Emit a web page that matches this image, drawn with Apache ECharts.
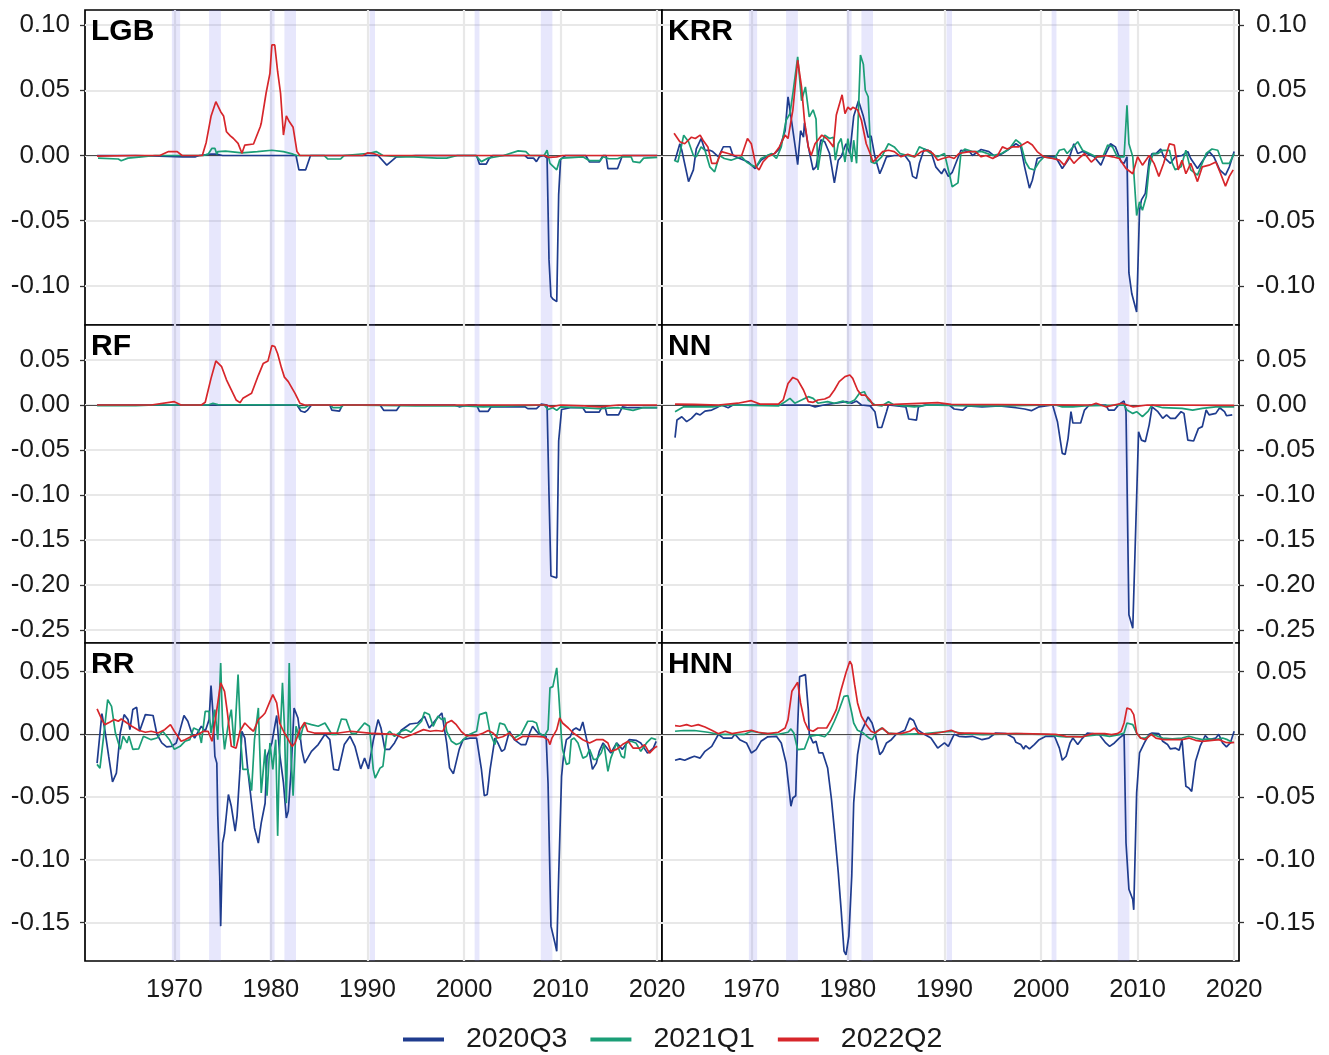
<!DOCTYPE html>
<html><head><meta charset="utf-8">
<script src="https://cdn.jsdelivr.net/npm/echarts@6/dist/echarts.min.js"></script>
<style>html,body{margin:0;padding:0;background:#fff}#c{width:1329px;height:1055px}</style>
</head><body><div id="c"></div>
<script>
// ---------- tick labels / categories ----------
const panelNames = ['LGB','KRR','RF','NN','RR','HNN'];
const seriesNames = ['2020Q3','2021Q1','2022Q2'];
const xTicks = [1970,1980,1990,2000,2010,2020];
const yTicksRow1 = [-0.10,-0.05,0,0.05,0.10];
const yTicksRow2 = [-0.25,-0.20,-0.15,-0.10,-0.05,0,0.05];
const yTicksRow3 = [-0.15,-0.10,-0.05,0,0.05];
const recessions = [[1969.75,1970.6],[1973.6,1974.82],[1979.88,1980.38],[1981.4,1982.6],[1990.22,1990.78],[2001.1,2001.6],[2007.95,2009.15]];

// ---------- LGB ----------
const LGB_2020Q3 = [[1962,0],[1966,0],[1970.9,-0.001],[1972.2,-0.001],[1972.6,0],[1973.8,0.001],[1974.3,0.001],[1975,0],[1982.6,0],[1982.9,-0.011],[1983.6,-0.011],[1984.1,0],[1991.1,0],[1992.0,-0.0074],[1993.0,-0.001],[1995,0],[2001.3,0],[2001.6,-0.0066],[2002.3,-0.0066],[2002.6,-0.0023],[2003,0],[2006.3,0],[2006.6,-0.002],[2007.2,-0.002],[2007.5,-0.0047],[2007.8,-0.001],[2008.3,0],[2008.6,-0.002],[2008.8,-0.08],[2009.0,-0.108],[2009.2,-0.11],[2009.6,-0.112],[2009.8,-0.03],[2010.0,-0.003],[2010.5,0],[2012.6,0],[2013.0,-0.005],[2014.0,-0.005],[2014.4,0],[2014.7,0],[2014.9,-0.01],[2015.9,-0.01],[2016.4,0],[2020,0]];
const LGB_2021Q1 = [[1962.1,-0.002],[1964.2,-0.0027],[1964.5,-0.004],[1965.2,-0.002],[1966.6,-0.001],[1968,0],[1973,0],[1973.5,0.001],[1973.9,0.0055],[1974.2,0.0055],[1974.4,0.001],[1974.5,0.003],[1975.3,0.0033],[1977.0,0.002],[1978.6,0.003],[1980.1,0.004],[1981.3,0.003],[1982.3,0.001],[1982.7,0],[1985.5,0],[1985.9,-0.0027],[1987.2,-0.0027],[1987.6,0],[1990.2,0.0017],[1990.9,0.003],[1991.6,0],[1993.4,-0.001],[1994.8,-0.001],[1997.2,-0.002],[1998.2,-0.002],[1999.3,0],[2001.2,0],[2001.8,-0.0047],[2002.5,-0.002],[2004.1,0],[2005.6,0.0035],[2006.4,0.003],[2006.8,0],[2008.3,0],[2008.6,0.004],[2008.9,-0.006],[2009.6,-0.011],[2009.9,-0.0035],[2010.2,-0.002],[2012.3,-0.001],[2013.0,-0.004],[2014.1,-0.004],[2014.4,-0.001],[2015.0,-0.0025],[2015.9,-0.0025],[2016.4,-0.001],[2017.3,-0.001],[2017.5,-0.0047],[2018.2,-0.0055],[2018.6,-0.002],[2020,-0.0015]];
const LGB_2022Q2 = [[1962,-0.0005],[1966,0],[1968.5,0],[1969.4,0.003],[1970.3,0.003],[1970.8,0],[1972.9,0],[1973.3,0.01],[1973.8,0.03],[1974.3,0.0412],[1974.8,0.0336],[1975.1,0.0303],[1975.4,0.0182],[1975.8,0.015],[1976.1,0.0132],[1976.6,0.0093],[1977.0,0.0017],[1977.3,0.008],[1978.2,0.0088],[1978.4,0.0073],[1978.9,0.022],[1979.0,0.0247],[1979.5,0.0477],[1979.9,0.063],[1980.1,0.0847],[1980.4,0.0847],[1980.7,0.0642],[1981.0,0.0477],[1981.3,0.0157],[1981.6,0.0303],[1981.9,0.026],[1982.3,0.0216],[1982.7,0.003],[1983.0,0],[1989.5,0],[1990.0,0.002],[1990.6,0.0015],[1991.2,0],[2008.3,0],[2008.8,-0.0015],[2009.6,-0.001],[2010.2,0],[2020,0]];

// ---------- KRR ----------
const KRR_2020Q3 = [[1962.1,-0.0036],[1962.6,0.009],[1962.8,0.004],[1963.5,-0.02],[1964.0,-0.011],[1964.3,0.005],[1964.8,0.013],[1965.2,0.004],[1965.7,0.004],[1966.0,0.003],[1966.6,-0.001],[1967.1,0.0067],[1967.8,0.0067],[1968.1,0],[1968.8,-0.0023],[1969.7,-0.005],[1970.4,-0.01],[1971.0,-0.0036],[1971.7,0],[1972.4,0.0015],[1972.9,0.005],[1973.5,0.019],[1973.8,0.045],[1974.1,0.03],[1974.5,0.009],[1974.8,-0.007],[1975.1,0.019],[1975.4,0.014],[1975.5,0.025],[1975.9,0.0066],[1976.4,-0.011],[1976.7,-0.0087],[1977.2,0.012],[1977.6,0.0105],[1978.1,0.0015],[1978.6,-0.021],[1979.0,-0.0036],[1979.3,-0.001],[1979.8,0.009],[1980.2,0.0015],[1980.6,0.03],[1981.1,0.042],[1981.6,0.03],[1982.1,0.014],[1982.4,0.015],[1982.8,-0.001],[1983.3,-0.014],[1983.6,-0.0087],[1984.0,-0.001],[1984.8,0],[1985.9,0],[1986.4,-0.005],[1986.7,-0.016],[1987.1,-0.0176],[1987.4,-0.006],[1987.9,0.005],[1988.6,0.003],[1989.1,-0.0087],[1989.7,-0.014],[1990.0,-0.01],[1990.4,-0.016],[1990.8,-0.013],[1991.7,0.004],[1992.6,0.003],[1992.9,0],[1993.8,0.0046],[1994.6,0.003],[1995.3,-0.001],[1996.0,0.0015],[1996.5,0.004],[1997.4,0.009],[1997.9,0.0066],[1998.3,-0.0087],[1998.8,-0.025],[1999.1,-0.019],[1999.6,-0.0023],[2000.2,-0.001],[2001.5,-0.001],[2002.2,-0.01],[2002.9,-0.0023],[2003.4,0.009],[2003.8,0.0015],[2004.3,0.003],[2005.5,-0.001],[2006.2,-0.0074],[2006.7,0.0015],[2007.2,0.009],[2007.7,0.0066],[2008.3,-0.005],[2008.6,-0.006],[2008.9,-0.001],[2009.1,-0.09],[2009.4,-0.106],[2009.6,-0.107],[2009.9,-0.12],[2010.2,-0.042],[2010.4,-0.034],[2010.8,-0.029],[2011.2,-0.0036],[2011.5,0.0015],[2011.9,0.0015],[2012.4,0.005],[2012.7,-0.001],[2013.4,-0.006],[2013.9,-0.001],[2014.6,0],[2015.2,0.003],[2015.5,-0.0023],[2016.2,-0.01],[2016.9,-0.0023],[2017.4,0.003],[2017.9,-0.001],[2018.5,-0.011],[2019.1,-0.015],[2019.5,-0.0087],[2020.0,0.003]];
const KRR_2021Q1 = [[1962.0,-0.0036],[1962.4,-0.005],[1963.0,0.0156],[1963.5,0.0105],[1964.0,0],[1964.3,-0.001],[1964.8,0.0066],[1965.2,0.004],[1965.7,-0.0087],[1966.2,-0.0125],[1966.7,0],[1967.2,-0.0023],[1967.9,-0.0036],[1968.4,-0.0023],[1969.0,-0.001],[1969.5,-0.005],[1970.0,-0.0074],[1970.5,-0.0087],[1971.0,-0.0023],[1972.1,0.0015],[1972.6,-0.0023],[1973.1,0.0066],[1973.6,0.027],[1974.0,0.032],[1974.3,0.0475],[1974.8,0.0756],[1975.2,0.042],[1975.6,0.0526],[1976.0,0.0296],[1976.4,0.035],[1976.7,0.028],[1976.9,-0.011],[1977.3,0.009],[1977.6,0.0156],[1978.1,0.013],[1978.5,0.014],[1978.7,-0.0036],[1979.0,0.009],[1979.3,0.013],[1979.7,-0.005],[1980.0,0.013],[1980.4,-0.005],[1980.6,0.0117],[1980.9,-0.006],[1981.3,0.077],[1981.6,0.07],[1981.8,0.05],[1982.1,0.045],[1982.4,-0.005],[1982.8,-0.006],[1983.5,-0.001],[1984.2,0.009],[1984.8,0.0066],[1985.4,0.0015],[1986.2,0],[1986.9,-0.001],[1987.4,0.0066],[1987.9,0.005],[1988.6,0.0015],[1989.3,-0.001],[1990.0,0.0015],[1990.5,-0.014],[1990.8,-0.024],[1991.4,-0.021],[1991.7,0.0015],[1992.1,0.005],[1992.9,0.003],[1993.9,0.003],[1995.0,0],[1995.9,0.0015],[1996.7,0.005],[1997.4,0.012],[1997.9,0.009],[1998.4,-0.005],[1998.8,-0.01],[1999.3,-0.011],[1999.8,-0.005],[2000.3,-0.001],[2001.4,-0.0023],[2001.9,0.004],[2002.4,0.005],[2002.7,0.0015],[2003.8,0.0105],[2004.3,0.004],[2005.0,0.0015],[2005.7,-0.001],[2006.4,-0.001],[2006.9,0.008],[2007.4,0.0066],[2007.9,-0.001],[2008.6,-0.001],[2008.9,0.0385],[2009.1,0.009],[2009.3,0.004],[2009.5,-0.001],[2009.9,-0.046],[2010.2,-0.0355],[2010.5,-0.042],[2010.9,-0.0315],[2011.2,-0.0087],[2011.6,0.0015],[2012.1,0.0015],[2012.6,0.004],[2013.3,0.004],[2013.6,-0.006],[2013.9,-0.011],[2014.5,-0.0087],[2015.0,0.004],[2015.5,-0.011],[2016.2,-0.015],[2017.1,0.0015],[2017.7,0.005],[2018.3,0.004],[2018.8,-0.006],[2019.5,-0.006],[2020.0,0.0015]];
const KRR_2022Q2 = [[1962.0,0.017],[1962.6,0.0105],[1963.1,0.009],[1963.8,0.014],[1964.2,0.013],[1964.7,0.0156],[1965.0,0.0117],[1965.5,0.0066],[1965.9,-0.006],[1966.4,-0.006],[1966.9,0.003],[1967.6,0.0015],[1968.3,0],[1969.0,0],[1969.6,0.013],[1970.0,0.009],[1970.5,-0.0087],[1970.8,-0.011],[1971.2,-0.005],[1971.7,-0.001],[1972.4,0.0015],[1972.9,0.0066],[1973.5,0.0156],[1973.8,0.013],[1974.3,0.0347],[1974.8,0.073],[1975.2,0.0526],[1975.5,0.027],[1975.9,0.0066],[1976.2,0],[1976.6,0.009],[1977.3,0.0156],[1977.8,0.013],[1978.1,0.0105],[1978.5,0.0066],[1978.8,0.031],[1979.0,0.03],[1979.4,0.0465],[1979.7,0.032],[1980.0,0.037],[1980.3,0.035],[1980.5,0.037],[1981.0,0.035],[1981.4,0.027],[1981.9,0.009],[1982.3,0.0015],[1982.6,-0.005],[1983.1,-0.001],[1983.6,0.003],[1984.2,0.004],[1984.8,0.003],[1985.5,-0.001],[1986.2,0.001],[1986.9,-0.001],[1987.6,0.003],[1988.3,0.004],[1988.8,0.0015],[1989.3,-0.0036],[1989.8,-0.0023],[1990.5,-0.001],[1991.0,-0.0023],[1991.5,0.0015],[1992.6,0.003],[1993.2,0.003],[1993.8,-0.001],[1994.3,0],[1995.0,-0.0023],[1995.5,0],[1996.0,0.0066],[1996.5,0.005],[1997.0,0.0066],[1997.7,0.0066],[1998.6,0.0105],[1999.1,0.008],[1999.6,0.003],[2000.3,-0.001],[2001.2,-0.0023],[2001.9,-0.0036],[2002.4,-0.0074],[2002.9,-0.001],[2003.4,-0.006],[2003.9,-0.0023],[2004.5,0.0015],[2005.2,-0.005],[2005.8,-0.001],[2006.7,0],[2007.4,-0.001],[2008.1,-0.0023],[2008.8,-0.01],[2009.5,-0.014],[2010.0,-0.001],[2010.5,-0.0074],[2011.2,0],[2011.7,-0.006],[2012.2,-0.016],[2012.7,-0.006],[2013.3,0.009],[2013.8,0.008],[2014.2,-0.011],[2014.6,-0.0036],[2015.0,-0.014],[2015.5,-0.006],[2016.2,-0.02],[2016.7,-0.0087],[2017.4,-0.0074],[2018.1,-0.005],[2018.6,-0.014],[2019.1,-0.0235],[2019.5,-0.016],[2019.9,-0.011]];

// ---------- RF ----------
const RF_2020Q3 = [[1962,0],[1982.7,0],[1983.1,-0.0067],[1983.5,-0.008],[1983.8,-0.0056],[1984.2,0],[1986.1,0],[1986.3,-0.0056],[1987.1,-0.0067],[1987.4,0],[1991.3,0],[1991.7,-0.006],[1993.0,-0.006],[1993.4,0],[1999,0],[1999.5,-0.002],[2000.5,0],[2001.3,0],[2001.6,-0.007],[2002.5,-0.007],[2002.8,-0.002],[2006.3,-0.002],[2006.6,-0.004],[2007.5,-0.004],[2008.0,0.001],[2008.6,0],[2008.8,-0.1],[2009.0,-0.19],[2009.6,-0.192],[2009.8,-0.04],[2010.1,-0.005],[2011,-0.003],[2012.3,-0.003],[2012.6,-0.008],[2014.0,-0.008],[2014.3,-0.002],[2014.6,-0.002],[2014.8,-0.011],[2016.0,-0.011],[2016.4,-0.002],[2017,-0.003],[2020,-0.003]];
const RF_2021Q1 = [[1962,-0.0007],[1963,-0.0003],[1966,-0.0007],[1968,0],[1973.5,0],[1974,0.002],[1974.5,0.0005],[1982.7,0],[1983.1,-0.003],[1983.5,-0.003],[1984,0],[1986.2,0],[1986.4,-0.003],[1987.2,-0.003],[1987.5,0],[1995,-0.001],[2000,-0.001],[2002,-0.002],[2005,-0.001],[2008.3,0],[2008.7,-0.005],[2009.2,-0.003],[2009.6,-0.006],[2010,-0.002],[2012,-0.003],[2014,-0.004],[2016,-0.003],[2017.5,-0.006],[2018.5,-0.003],[2020,-0.003]];
const RF_2022Q2 = [[1962,0],[1967.6,0],[1970.0,0.0037],[1970.7,0],[1972.8,0],[1973.2,0.003],[1973.8,0.0296],[1974.3,0.049],[1974.9,0.0426],[1975.4,0.028],[1975.9,0.0167],[1976.4,0.0056],[1976.8,0.0026],[1977.1,0.0074],[1978.0,0.013],[1978.7,0.033],[1979.2,0.046],[1979.7,0.049],[1980.1,0.066],[1980.4,0.065],[1980.7,0.057],[1981.1,0.041],[1981.4,0.031],[1981.8,0.026],[1982.5,0.013],[1983.0,0.002],[1983.5,0],[2008.5,0],[2009,-0.002],[2010,0],[2012.5,-0.001],[2014,-0.002],[2016,0],[2020,0]];

// ---------- NN ----------
const NN_2020Q3 = [[1962.1,-0.0363],[1962.3,-0.0167],[1962.8,-0.013],[1963.3,-0.0185],[1963.8,-0.0148],[1964.3,-0.0093],[1964.7,-0.011],[1965.2,-0.0067],[1965.9,-0.0056],[1966.4,-0.003],[1966.9,0],[1967.6,-0.003],[1968.1,0],[1976.0,0],[1976.6,-0.002],[1977.5,0],[1979.8,0.0037],[1980.4,0.002],[1980.9,0.0044],[1981.4,0],[1982.3,-0.001],[1982.8,-0.0074],[1983.1,-0.025],[1983.5,-0.025],[1984.0,-0.0074],[1984.2,0],[1986.0,-0.002],[1986.3,-0.0155],[1987.1,-0.0167],[1987.3,-0.002],[1988,0],[1990.5,0],[1991.0,-0.0044],[1991.9,-0.0056],[1992.4,-0.001],[1993.9,-0.002],[1995.7,-0.001],[1997.4,-0.003],[1998.3,-0.0044],[1999.0,-0.0063],[1999.8,-0.002],[2001.2,0],[2001.7,-0.0185],[2002.2,-0.0537],[2002.5,-0.0548],[2002.8,-0.037],[2003.1,-0.0074],[2003.3,-0.02],[2004.1,-0.02],[2004.5,-0.0056],[2005.0,0],[2006.7,0],[2007.0,-0.0056],[2007.6,-0.0056],[2008.1,0.001],[2008.6,0.0044],[2008.8,-0.0074],[2009.1,-0.233],[2009.5,-0.248],[2009.7,-0.248],[2010.1,-0.0296],[2010.4,-0.039],[2010.8,-0.0407],[2011.2,-0.022],[2011.5,-0.002],[2012.1,-0.0074],[2012.6,-0.0148],[2013.0,-0.011],[2013.4,-0.0148],[2013.9,-0.0148],[2014.5,-0.0074],[2014.8,-0.0093],[2015.2,-0.039],[2015.8,-0.04],[2016.3,-0.026],[2016.7,-0.024],[2017.1,-0.0056],[2017.4,-0.011],[2018.1,-0.0093],[2018.5,-0.003],[2019.0,-0.0074],[2019.2,-0.0119],[2019.8,-0.011]];
const NN_2021Q1 = [[1962.1,-0.0074],[1963.0,-0.002],[1966,-0.002],[1967.6,0],[1972.8,-0.001],[1973.5,0.0037],[1974.0,0.0074],[1974.5,0.002],[1975.2,0.0056],[1975.9,0.0093],[1976.4,0.0074],[1976.9,0.002],[1977.9,0.0037],[1978.6,0.002],[1979.5,0.0044],[1980.0,0.002],[1980.7,0.0056],[1981.2,0.013],[1981.7,0.0148],[1982.1,0.0056],[1982.8,0],[1983.5,-0.001],[1984.2,0.0037],[1984.8,0],[1986.9,-0.002],[1988.3,0],[1992.5,-0.001],[1995.7,-0.001],[2001.5,0],[2002.2,-0.002],[2003.3,-0.002],[2004.5,-0.001],[2008.6,0],[2008.9,-0.0056],[2009.5,-0.0093],[2009.9,-0.0074],[2010.5,-0.013],[2011.1,-0.0067],[2011.5,0],[2012.6,-0.003],[2014.6,-0.0037],[2015.7,-0.0056],[2016.7,-0.0037],[2018.1,-0.002],[2020,-0.002]];
const NN_2022Q2 = [[1962.1,0.001],[1964.1,0.0007],[1966.6,0],[1968.6,0.002],[1970.0,0.0048],[1970.9,0.001],[1972.8,0.001],[1973.3,0.0056],[1973.8,0.024],[1974.3,0.0307],[1974.8,0.028],[1975.4,0.0167],[1975.9,0.0037],[1976.4,0.003],[1976.9,0.0056],[1977.6,0.0067],[1978.1,0.0093],[1978.6,0.0167],[1979.1,0.026],[1979.7,0.0315],[1980.2,0.0333],[1980.5,0.0296],[1981.0,0.0167],[1981.4,0.011],[1981.8,0.011],[1982.3,0.0056],[1982.6,0],[1984.8,0.0007],[1989.3,0.0026],[1990.7,0.0007],[2005.2,0],[2005.7,0.002],[2006.7,-0.002],[2008.4,0.002],[2009.5,-0.002],[2011,0],[2020,-0.0005]];

// ---------- RR ----------
const RR_2020Q3 = [[1962.0,-0.023],[1962.5,0.0165],[1962.8,0.0037],[1963.2,-0.0175],[1963.6,-0.038],[1964.0,-0.031],[1964.4,0.001],[1964.8,0.0157],[1965.2,0.0117],[1965.4,0.0037],[1965.7,0.0197],[1966.1,0.0215],[1966.4,0.0024],[1967.0,0.0157],[1967.8,0.015],[1968.2,0],[1968.7,-0.0069],[1969.2,-0.01],[1969.7,-0.0096],[1970.2,-0.0069],[1970.6,0.0037],[1971.0,0.015],[1971.4,0.0104],[1971.8,0.001],[1972.1,-0.003],[1972.5,0.0024],[1972.8,0.0064],[1973.2,0.0024],[1973.6,0.0117],[1973.8,0.0388],[1974.0,0.017],[1974.2,-0.0175],[1974.4,-0.023],[1974.5,-0.065],[1974.7,-0.113],[1974.8,-0.153],[1975.0,-0.0867],[1975.2,-0.0787],[1975.6,-0.048],[1975.9,-0.0574],[1976.3,-0.0773],[1976.5,-0.065],[1976.8,-0.028],[1977.0,0.0024],[1977.3,-0.003],[1977.6,-0.028],[1978.0,-0.055],[1978.3,-0.0747],[1978.7,-0.0867],[1979.0,-0.0707],[1979.4,-0.055],[1979.6,-0.0175],[1980.1,-0.0069],[1980.4,0.0064],[1980.6,0.015],[1980.9,-0.015],[1981.3,-0.0388],[1981.6,-0.0667],[1981.8,-0.0614],[1982.1,-0.028],[1982.4,0.021],[1982.8,0.013],[1983.2,-0.0122],[1983.5,-0.023],[1983.8,-0.019],[1984.2,-0.0136],[1984.9,-0.0082],[1985.6,0],[1986.1,-0.0043],[1986.5,-0.028],[1987.0,-0.0287],[1987.6,-0.0082],[1988.2,-0.0016],[1988.7,-0.0096],[1989.3,-0.0276],[1989.7,-0.019],[1990.1,-0.0276],[1990.6,-0.005],[1991.1,0.0117],[1991.4,0.005],[1991.8,-0.012],[1992.3,-0.012],[1992.8,-0.0069],[1993.5,0.0032],[1994.4,0.0082],[1995.2,0.009],[1995.9,0.0144],[1996.4,0.005],[1997.1,0.0117],[1997.7,0.017],[1997.9,0.0165],[1998.2,-0.0069],[1998.5,-0.0268],[1998.9,-0.0314],[1999.1,-0.031],[1999.5,-0.012],[1999.9,-0.0043],[2000.6,-0.003],[2001.3,-0.003],[2001.8,-0.028],[2002.1,-0.049],[2002.4,-0.048],[2002.7,-0.028],[2003.2,-0.003],[2003.5,-0.0069],[2003.9,-0.0136],[2004.2,-0.012],[2004.7,0.0024],[2005.2,-0.0043],[2005.9,-0.0082],[2006.4,-0.0082],[2006.8,0.001],[2007.1,0.0064],[2007.5,0.0024],[2007.8,0],[2008.5,-0.0016],[2008.7,-0.039],[2009.0,-0.153],[2009.4,-0.166],[2009.6,-0.173],[2009.8,-0.113],[2010.1,-0.0335],[2010.3,-0.0175],[2010.6,-0.0043],[2011.0,-0.002],[2011.3,0.0037],[2011.6,0.005],[2012.0,0.003],[2012.3,0.0098],[2012.7,-0.0043],[2013.0,-0.015],[2013.3,-0.028],[2013.7,-0.023],[2014.0,-0.0136],[2014.4,-0.0069],[2014.9,-0.012],[2015.2,-0.015],[2015.8,-0.0069],[2016.4,-0.012],[2017.1,-0.0043],[2017.8,-0.0048],[2018.3,-0.0069],[2019.0,-0.015],[2019.6,-0.011],[2019.9,-0.0056]];
const RR_2021Q1 = [[1962.0,-0.024],[1962.3,-0.027],[1962.6,-0.0069],[1963.1,0.0276],[1963.5,0.0223],[1963.9,0.001],[1964.4,-0.012],[1964.7,-0.0016],[1965.1,-0.0069],[1965.3,-0.0016],[1965.7,-0.012],[1966.3,-0.0117],[1966.8,-0.0016],[1967.6,-0.0043],[1968.2,-0.003],[1968.8,0.0024],[1969.5,-0.0043],[1970.0,-0.012],[1970.6,-0.0096],[1971.1,-0.0056],[1971.6,-0.0043],[1972.0,0.005],[1972.5,0.0032],[1972.8,-0.0069],[1973.2,0.0183],[1973.6,0.0183],[1973.8,0.001],[1974.2,0.0197],[1974.5,-0.0043],[1974.8,0.0569],[1975.0,0.0064],[1975.2,-0.012],[1975.6,0.009],[1975.9,0.0197],[1976.2,-0.0096],[1976.6,0.0476],[1976.9,-0.0069],[1977.1,-0.028],[1977.6,-0.028],[1978.0,-0.045],[1978.3,-0.0043],[1978.7,0.021],[1979.0,-0.0468],[1979.4,-0.012],[1979.6,-0.049],[1979.9,-0.0069],[1980.2,-0.028],[1980.5,-0.0043],[1980.7,-0.081],[1980.9,-0.012],[1981.2,0.041],[1981.4,0.0064],[1981.6,-0.055],[1981.9,0.0569],[1982.1,-0.0202],[1982.3,-0.049],[1982.6,0.0064],[1983.0,-0.0043],[1983.3,0.005],[1983.6,0.009],[1984.2,0.0077],[1984.9,0.0064],[1985.6,0.009],[1986.3,0],[1986.8,0],[1987.3,0.0122],[1987.8,0.0117],[1988.3,0.001],[1988.8,0.0005],[1989.7,0.009],[1990.2,0.0064],[1990.6,-0.028],[1990.8,-0.035],[1991.3,-0.027],[1991.6,-0.0255],[1992.0,0],[1992.3,0.0024],[1992.8,-0.0016],[1993.5,0.0024],[1994.0,0.0037],[1994.5,0.0016],[1995.1,0.0064],[1995.6,0.0104],[1995.9,0.0175],[1996.4,0.0157],[1996.8,0.0064],[1997.3,0.0144],[1997.7,0.0117],[1998.0,0.013],[1998.2,0.0024],[1998.7,-0.0056],[1999.2,-0.0082],[1999.6,-0.0069],[2000.1,-0.003],[2000.6,0],[2001.3,0.0024],[2001.6,0.0157],[2002.3,0.0175],[2002.7,0.001],[2003.2,-0.0082],[2003.7,0.009],[2004.2,0.0077],[2004.7,0],[2005.2,-0.003],[2005.9,0],[2006.6,0.0104],[2007.1,0.0104],[2007.5,0.009],[2007.8,0.001],[2008.3,-0.0016],[2008.7,0.0037],[2008.9,0.037],[2009.2,0.038],[2009.6,0.053],[2009.8,0.033],[2010.1,-0.0043],[2010.2,-0.012],[2010.6,-0.024],[2010.9,-0.023],[2011.1,-0.0043],[2011.4,-0.003],[2011.8,-0.0069],[2012.3,-0.019],[2012.7,-0.0175],[2013.0,-0.012],[2013.4,-0.02],[2013.7,-0.02],[2014.2,-0.015],[2014.5,-0.0082],[2014.9,-0.0295],[2015.2,-0.019],[2015.8,-0.0069],[2016.3,-0.0175],[2016.6,-0.019],[2016.8,-0.0069],[2017.3,-0.0056],[2017.8,-0.0069],[2018.3,-0.0136],[2018.9,-0.0069],[2019.4,-0.003],[2019.9,-0.0043]];
const RR_2022Q2 = [[1962.0,0.0202],[1962.5,0.0117],[1962.8,0.0077],[1963.3,0.0096],[1963.8,0.0117],[1964.2,0.0104],[1964.5,0.0122],[1965.1,0.009],[1965.6,0.0064],[1966.3,0.0032],[1967.0,0.0016],[1967.6,0.0024],[1968.3,0.001],[1969.0,0.0037],[1969.6,0.0077],[1970.0,0.0024],[1970.7,-0.0056],[1971.1,-0.0043],[1971.8,-0.0016],[1972.5,0],[1973.0,0.0024],[1973.5,0.0024],[1973.9,-0.0056],[1974.4,0.0197],[1974.8,0.041],[1975.2,0.0343],[1975.5,0.017],[1975.9,-0.0096],[1976.4,-0.011],[1976.8,0.0024],[1977.3,0.009],[1977.8,0.005],[1978.2,0.0024],[1978.7,0.0117],[1979.1,0.0144],[1979.4,0.017],[1979.9,0.0263],[1980.2,0.0316],[1980.6,0.025],[1980.9,0.009],[1981.4,0.001],[1981.8,-0.0043],[1982.2,-0.0096],[1982.5,-0.0069],[1983.0,0.0037],[1983.5,0.0096],[1983.8,0.0024],[1984.5,0.001],[1987,0.001],[1988.3,0.0024],[1990.2,0.001],[1992.8,0],[1993.7,-0.003],[1994.7,0],[1995.8,0.0037],[1996.5,0.0024],[1997.1,0.003],[1997.8,0.0024],[1998.2,0.009],[1998.7,0.011],[1999.2,0.0077],[1999.7,0.0024],[2000.2,-0.001],[2001.3,-0.001],[2002.0,0.001],[2002.5,0.003],[2003.0,0.001],[2003.5,-0.003],[2004.0,-0.002],[2004.7,0.001],[2005.4,-0.0048],[2006.1,-0.0016],[2007.5,-0.0016],[2008.2,-0.002],[2008.7,-0.0043],[2008.9,-0.0082],[2009.1,-0.003],[2009.6,0.0037],[2009.9,0.013],[2010.2,0.009],[2010.8,0.005],[2011.3,0.001],[2011.8,-0.0016],[2012.3,-0.0043],[2013.0,-0.0069],[2013.7,-0.0043],[2014.4,-0.0043],[2014.9,-0.0069],[2015.2,-0.0136],[2015.8,-0.012],[2016.4,-0.0082],[2017.0,-0.0056],[2017.5,-0.011],[2018.2,-0.011],[2018.7,-0.0082],[2019.2,-0.015],[2019.7,-0.011],[2020.0,-0.0096]];

// ---------- HNN ----------
const HNN_2020Q3 = [[1962.1,-0.0207],[1962.6,-0.0196],[1963.1,-0.0207],[1963.6,-0.019],[1964.1,-0.0175],[1964.7,-0.019],[1965.2,-0.0136],[1965.9,-0.0096],[1966.6,0],[1967.1,-0.003],[1968.0,-0.003],[1968.3,0],[1968.8,-0.0043],[1969.5,-0.0069],[1970.0,-0.0149],[1970.5,-0.0122],[1971.0,-0.0056],[1971.7,-0.002],[1972.6,-0.0016],[1973.1,-0.0069],[1973.6,-0.0229],[1974.1,-0.0574],[1974.3,-0.0508],[1974.6,-0.049],[1974.8,0.0064],[1975.0,0.046],[1975.6,0.0476],[1975.9,0.0197],[1976.0,0],[1976.4,-0.0069],[1976.7,-0.0056],[1977.0,-0.0149],[1977.4,-0.0149],[1977.9,-0.0268],[1978.3,-0.052],[1978.6,-0.076],[1979.0,-0.11],[1979.3,-0.14],[1979.6,-0.173],[1979.8,-0.176],[1980.1,-0.161],[1980.4,-0.113],[1980.6,-0.0548],[1981.0,-0.0162],[1981.4,0.0024],[1982.1,0.0138],[1982.5,0.009],[1982.8,0.001],[1983.3,-0.0162],[1983.6,-0.0136],[1984.0,-0.0069],[1984.5,-0.0043],[1985.0,0],[1985.9,0.0032],[1986.4,0.013],[1986.8,0.011],[1987.2,0.0037],[1987.9,0],[1988.6,-0.003],[1989.3,-0.011],[1990.0,-0.0069],[1990.4,-0.0096],[1990.6,-0.011],[1991.0,0],[1991.5,-0.0016],[1992.2,-0.002],[1992.9,-0.0016],[1993.9,-0.0043],[1994.6,-0.003],[1995.3,0.001],[1996.4,0.0005],[1997.2,-0.003],[1997.4,-0.0064],[1997.9,-0.0082],[1998.2,-0.0117],[1998.4,-0.009],[1998.8,-0.0117],[1999.3,-0.0082],[1999.8,-0.0043],[2000.5,-0.0016],[2001.4,-0.0016],[2001.9,-0.011],[2002.2,-0.0207],[2002.6,-0.0175],[2003.0,-0.0069],[2003.3,-0.003],[2003.8,-0.0082],[2004.3,-0.003],[2004.8,0.001],[2006.0,0],[2006.7,-0.0069],[2007.1,-0.0096],[2007.6,-0.0069],[2008.1,-0.003],[2008.6,0],[2008.8,-0.0867],[2009.1,-0.1236],[2009.5,-0.1318],[2009.6,-0.14],[2009.9,-0.0468],[2010.2,-0.0149],[2010.7,-0.0069],[2011.2,0],[2011.5,0.001],[2012.2,0.0005],[2012.6,-0.0056],[2013.1,-0.0082],[2013.4,-0.0117],[2013.9,-0.011],[2014.3,-0.0128],[2014.6,-0.0043],[2015.0,-0.0415],[2015.3,-0.0428],[2015.6,-0.0455],[2016.0,-0.0215],[2016.5,-0.009],[2017.0,-0.001],[2017.4,-0.0043],[2018.1,-0.003],[2018.4,0],[2018.8,-0.0069],[2019.2,-0.01],[2019.6,-0.0069],[2020.0,0.0024]];
const HNN_2021Q1 = [[1962.1,0.0024],[1963,0.003],[1964.1,0.003],[1965.5,0.0016],[1966.6,0],[1969.3,0],[1970.0,0.0024],[1971,0.001],[1972.8,0],[1973.8,0.0016],[1974.1,0.0043],[1974.4,0.001],[1974.8,-0.0122],[1975.5,-0.0117],[1976.0,-0.0016],[1976.9,-0.0005],[1977.6,-0.002],[1978.1,0.0024],[1978.6,0.0104],[1979.1,0.0197],[1979.6,0.0303],[1980.0,0.0308],[1980.4,0.017],[1980.6,0.009],[1981.0,0.0032],[1981.6,0.001],[1982.2,-0.003],[1982.5,-0.0043],[1983.0,0.0024],[1983.5,0.005],[1984.2,0.001],[1985.5,0],[1988,0.0005],[1989.3,0.0016],[1990.7,0.0024],[1992,0.0005],[1994,-0.0003],[1997.4,0.0005],[2000.8,-0.0003],[2001.9,-0.0016],[2002.6,-0.002],[2004.3,-0.0016],[2006,-0.0003],[2007.1,-0.0016],[2008.1,-0.0003],[2008.6,0.001],[2008.9,0.009],[2009.5,0.0077],[2009.9,0.001],[2010.3,-0.003],[2010.8,-0.003],[2011.5,0],[2012.6,-0.003],[2013.6,-0.0037],[2014.6,-0.003],[2015.3,-0.0016],[2016.0,-0.003],[2016.7,-0.0043],[2017.4,-0.0037],[2018.1,-0.0043],[2018.8,-0.003],[2019.3,-0.0043],[2019.8,-0.0064]];
const HNN_2022Q2 = [[1962.1,0.0069],[1962.6,0.0064],[1963.3,0.0077],[1963.8,0.0064],[1964.5,0.0077],[1965.2,0.0058],[1965.9,0.0032],[1966.6,0.0005],[1967.3,0.0024],[1968.0,0.0005],[1968.8,0.0016],[1970.0,0.0032],[1970.7,0.0016],[1971.7,0.0005],[1972.8,0.0016],[1973.5,0.005],[1973.8,0.0117],[1974.2,0.0343],[1974.8,0.0415],[1975.1,0.025],[1975.5,0.0104],[1975.9,0.0037],[1976.4,0.0024],[1976.9,0.005],[1977.8,0.005],[1978.3,0.0117],[1978.8,0.0197],[1979.3,0.0356],[1979.8,0.049],[1980.2,0.0582],[1980.4,0.0556],[1980.7,0.0396],[1981.0,0.025],[1981.4,0.0144],[1981.9,0.0077],[1982.4,0.0024],[1982.8,0.001],[1983.3,0.0037],[1983.6,0.005],[1984.2,0.0005],[1985.5,0.0005],[1986.4,0.0024],[1986.9,0.005],[1987.3,0.001],[1988.3,0],[1989.7,0.0016],[1990.7,0.0032],[1991.4,0.001],[1992.6,0.001],[1995,0.0005],[1998,0.0005],[2001.5,0],[2002.6,-0.0016],[2004.3,-0.002],[2005.3,0.0005],[2006.6,0.0005],[2007.3,-0.0003],[2007.9,0.0005],[2008.3,0.0024],[2008.6,0.009],[2008.9,0.021],[2009.3,0.0197],[2009.6,0.0157],[2009.9,0.001],[2010.3,-0.003],[2010.8,-0.0043],[2011.4,0],[2011.9,-0.003],[2012.7,-0.0043],[2014.6,-0.0043],[2015.3,-0.003],[2016.0,-0.0048],[2016.7,-0.0056],[2017.7,-0.0048],[2018.4,-0.0043],[2019.1,-0.0064],[2019.6,-0.0069],[2020.0,-0.0064]];

const panelData = {
  LGB: [LGB_2020Q3, LGB_2021Q1, LGB_2022Q2],
  KRR: [KRR_2020Q3, KRR_2021Q1, KRR_2022Q2],
  RF:  [RF_2020Q3, RF_2021Q1, RF_2022Q2],
  NN:  [NN_2020Q3, NN_2021Q1, NN_2022Q2],
  RR:  [RR_2020Q3, RR_2021Q1, RR_2022Q2],
  HNN: [HNN_2020Q3, HNN_2021Q1, HNN_2022Q2]
};

// ---------- layout / style ----------
const colors = ['#1f3c8e','#1b9e77','#d7262b'];
const FONT = '"Liberation Sans", Arial, Helvetica, sans-serif';
const rows = [
  {top:10, height:315, min:-0.1299, max:0.1115, ticks:yTicksRow1},
  {top:325, height:318, min:-0.2644, max:0.0889, ticks:yTicksRow2},
  {top:643, height:318, min:-0.1808, max:0.0728, ticks:yTicksRow3}
];
const cols = [{left:85, width:577}, {left:662, width:577}];
const XMIN = 1960.75, XMAX = 2020.5;

const grids = [], xAxes = [], yAxes = [], series = [], graphics = [];
panelNames.forEach((name, i) => {
  const r = rows[Math.floor(i/2)], c = cols[i%2];
  const bottomRow = Math.floor(i/2) === 2;
  const isRight = i%2 === 1;
  grids.push({left:c.left, top:r.top, width:c.width, height:r.height, show:true,
    backgroundColor:'#fff', borderColor:'#000', borderWidth:1.7, containLabel:false});
  xAxes.push({type:'value', gridIndex:i, min:XMIN, max:XMAX,
    axisLine:{show:false}, splitLine:{show:false},
    axisTick:{show:bottomRow, customValues:xTicks, length:5, lineStyle:{color:'#333', width:1.3}},
    axisLabel:{show:bottomRow, customValues:xTicks, margin:16, fontSize:25.5, color:'#1a1a1a', fontFamily:FONT,
      formatter: v => String(Math.round(v))}});
  yAxes.push({type:'value', gridIndex:i, min:r.min, max:r.max, position:isRight?'right':'left',
    axisLine:{show:false}, splitLine:{show:false},
    axisTick:{show:true, customValues:r.ticks, length:5, lineStyle:{color:'#333', width:1.3}},
    axisLabel:{show:true, customValues:r.ticks, margin:isRight?17:15, fontSize:26, color:'#1a1a1a', fontFamily:FONT,
      formatter: v => (Math.abs(v) < 1e-9 ? 0 : v).toFixed(2)}});
  // grid lines
  series.push({type:'line', xAxisIndex:i, yAxisIndex:i, data:[], silent:true, z:1,
    markLine:{silent:true, symbol:'none', z:1, label:{show:false}, animation:false,
      lineStyle:{color:'#e8e8e8', width:2.2, type:'solid'},
      data: xTicks.map(v => ({xAxis:v})).concat(r.ticks.map(v => ({yAxis:v})))}});
  // recession bands
  series.push({type:'line', xAxisIndex:i, yAxisIndex:i, data:[], silent:true, z:2,
    markArea:{silent:true, z:2, itemStyle:{color:'rgba(110,110,240,0.17)'}, label:{show:false},
      data: recessions.map(b => [{xAxis:b[0]}, {xAxis:b[1]}])}});
  // zero line
  series.push({type:'line', xAxisIndex:i, yAxisIndex:i, data:[], silent:true, z:3,
    markLine:{silent:true, symbol:'none', z:3, label:{show:false}, animation:false,
      lineStyle:{color:'#222', width:0.8, type:'solid'}, data:[{yAxis:0}]}});
  panelData[name].forEach((d, k) => {
    series.push({type:'line', name:seriesNames[k], xAxisIndex:i, yAxisIndex:i, data:d,
      showSymbol:false, symbol:'none', color:colors[k], z:4+k*0.1, clip:true, animation:false,
      lineStyle:{width:1.7, color:colors[k]}});
  });
  graphics.push({type:'text', left:c.left+6, top:r.top+7, z:100,
    style:{text:name, font:'bold 30px ' + FONT, fill:'#000'}});
});

const chart = echarts.init(document.getElementById('c'), null, {renderer:'canvas'});
chart.setOption({
  animation:false,
  backgroundColor:'#fff',
  grid:grids, xAxis:xAxes, yAxis:yAxes, series:series, graphic:graphics,
  legend:{data:seriesNames, left:403, top:1025, padding:0, icon:'rect', itemWidth:41, itemHeight:4, itemGap:23,
    textStyle:{fontSize:28.5, color:'#1a1a1a', fontFamily:FONT, padding:[0,0,0,17]}, selectedMode:false}
});
</script></body></html>
